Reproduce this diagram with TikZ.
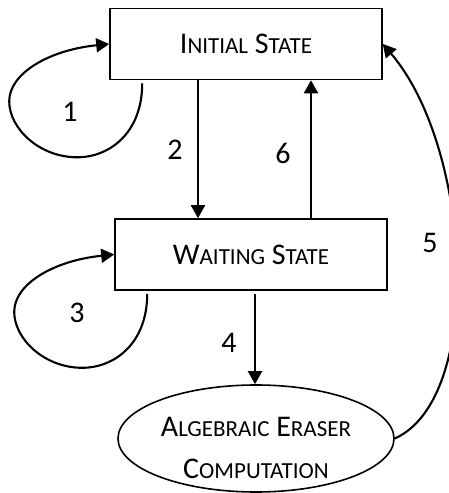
\documentclass[tikz,border=0pt]{standalone}
\usepackage{fontspec}
\setmainfont{Carlito}
\usetikzlibrary{arrows.meta,shapes.geometric}

\newcommand{\smc}[1]{{\fontsize{23}{23}\selectfont #1}}

\tikzset{
  statebox/.style={draw,line width=1.6pt,minimum width=272pt,minimum height=71pt,inner sep=0pt,
    font=\fontsize{30}{30}\selectfont},
  compbox/.style={draw,ellipse,line width=1.6pt,minimum width=276pt,minimum height=107pt,inner sep=0pt},
  flow/.style={line width=2.1pt,-{Triangle[length=13pt,width=14pt]}},
  num/.style={font=\fontsize{30}{30}\selectfont}
}

\begin{document}
\begin{tikzpicture}[x=1pt,y=1pt]
\useasboundingbox (0,0) rectangle (448,493);

\node[statebox] (init) at (246,449) {I\smc{NITIAL} S\smc{TATE}};
\node[statebox] (wait) at (251,238.5) {W\smc{AITING} S\smc{TATE}};
\node[compbox] (comp) at (256,54.5) {};
\node[align=center,font=\fontsize{30}{42}\selectfont] (comptext) at ([yshift=-9pt]comp.center)
  {A\smc{LGEBRAIC} E\smc{RASER}\\C\smc{OMPUTATION}};

% self loops
\draw[flow] ([xshift=33pt,yshift=-3pt]init.south west) .. controls +(0,-50) and +(32,0) .. ++(-65,-74)
  .. controls +(-38,0) and +(0,-27) .. ++(-68,56) .. controls +(0,28) and +(-60,-6) .. (init.west);
\draw[flow] ([xshift=33pt,yshift=-3pt]wait.south west) .. controls +(0,-50) and +(32,0) .. ++(-65,-74)
  .. controls +(-38,0) and +(0,-27) .. ++(-68,56) .. controls +(0,28) and +(-60,-6) .. (wait.west);

% transitions
\draw[flow] ([xshift=-48pt]init.south) -- ([xshift=-48pt]init.south |- wait.north);
\draw[flow] ([xshift=60pt]wait.north) -- ([xshift=60pt]wait.north |- init.south);
\draw[flow] ([xshift=4pt,yshift=-3pt]wait.south) -- ([xshift=4pt]wait.south |- comp.north);
\draw[flow] (comp.east) .. controls (485,95) and (472,345) .. (init.east);

% labels
\node[num] (n1) at (70,381) {1};
\node[num] (n2) at (175,343) {2};
\node[num] (n3) at (77,180) {3};
\node[num] (n4) at (229,150) {4};
\node[num] (n5) at (430,250) {5};
\node[num] (n6) at (283,340) {6};
\end{tikzpicture}
\end{document}
